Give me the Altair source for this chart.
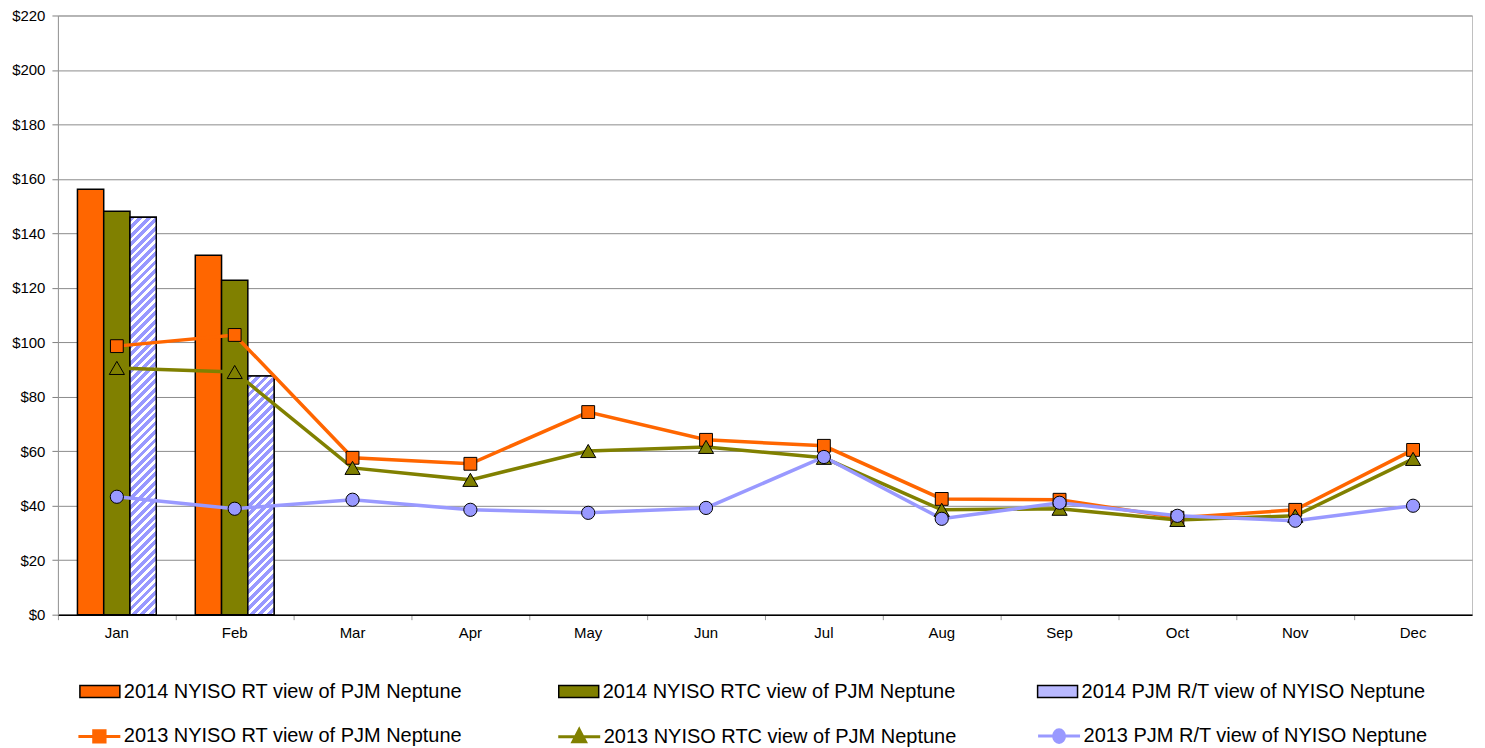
import altair as alt
import pandas as pd

MONTHS = ["Jan", "Feb", "Mar", "Apr", "May", "Jun", "Jul", "Aug", "Sep", "Oct", "Nov", "Dec"]

BAR_NAMES = ["2014 NYISO RT view of PJM Neptune",
             "2014 NYISO RTC view of PJM Neptune",
             "2014 PJM R/T view of NYISO Neptune"]
BAR_MONTHS = ["Jan", "Feb"]
bar_rt_2014 = [156.2, 132.0]
bar_rtc_2014 = [148.1, 122.8]
bar_pjm_2014 = [145.9, 87.6]

LINE_NAMES = ["2013 NYISO RT view of PJM Neptune",
              "2013 NYISO RTC view of PJM Neptune",
              "2013 PJM R/T view of NYISO Neptune"]
line_rt_2013 = [98.6, 102.7, 57.6, 55.4, 74.4, 64.2, 62.0, 42.5, 42.2, 35.6, 38.5, 60.5]
line_rtc_2013 = [90.6, 89.1, 53.9, 49.5, 60.1, 61.6, 57.6, 38.5, 38.9, 34.8, 36.3, 57.2]
line_pjm_2013 = [43.3, 38.9, 42.2, 38.5, 37.4, 39.2, 57.9, 35.2, 41.1, 36.3, 34.5, 40.0]

ORANGE = "#FF6600"
OLIVE = "#808000"
LAV = "#9999FF"
LAV_LEGEND = "#b9b9ff"
FONT = "Liberation Sans"

W, H = 1416, 600
YMAX = 220
BAR_PAD_OUTER = 0.743

bars = pd.DataFrame(
    [{"month": m, "series": BAR_NAMES[k], "value": v}
     for k, vals in enumerate([bar_rt_2014, bar_rtc_2014, bar_pjm_2014])
     for m, v in zip(BAR_MONTHS, vals)]
)
lines = pd.DataFrame(
    [{"month": m, "series13": LINE_NAMES[k], "value": v}
     for k, vals in enumerate([line_rt_2013, line_rtc_2013, line_pjm_2013])
     for m, v in zip(MONTHS, vals)]
)


def hatch(w, h, period=8.5, frac=0.58):
    n = max(1, round((w + h) / period))
    t = (w + h) / (w * w + h * h)
    stops = []
    for i in range(n):
        a, b, c = i / n, (i + frac) / n, (i + 1) / n
        stops += [{"offset": a, "color": LAV}, {"offset": b, "color": LAV},
                  {"offset": b, "color": "white"}, {"offset": c, "color": "white"}]
    return {"gradient": "linear", "x1": 0, "y1": 0, "x2": t * w, "y2": t * h, "stops": stops}


band_w = W / len(MONTHS)
bar_w = band_w / (3 + 2 * BAR_PAD_OUTER)

x_axis = alt.Axis(title=None, labelAngle=0, domainColor="black", domainWidth=1.5,
                  tickColor="#999999", tickSize=5, bandPosition=0, labelPadding=6,
                  labelFontSize=15, grid=False, labelColor="black")
x_scale = alt.Scale(domain=MONTHS, paddingInner=0, paddingOuter=0)
y_scale = alt.Scale(domain=[0, YMAX], nice=False)
y_axis = alt.Axis(title=None, format="$.0f", values=list(range(0, YMAX + 1, 20)),
                  grid=True, gridColor="#8c8c8c", gridWidth=1, domainColor="#999999",
                  tickColor="#808080", tickSize=6, labelPadding=7, labelFontSize=15,
                  labelColor="black")
xoff = alt.XOffset("series:N", scale=alt.Scale(domain=BAR_NAMES, paddingOuter=BAR_PAD_OUTER,
                                               paddingInner=0))

LEG_FS = 20
bar_legend = alt.Legend(
    title=None, orient="none", legendX=78 - 57, legendY=656, direction="horizontal",
    columns=3, gridAlign="all", columnPadding=78.5, labelLimit=600, padding=0,
    symbolType="M-1,-0.3H1V0.3H-1Z", symbolSize=40 * 40, symbolStrokeColor="black",
    symbolStrokeWidth=1.5, labelFontSize=LEG_FS, labelFont=FONT, labelOffset=3,
    symbolOpacity=1,
)

SQ = "M-1,0H1M-0.27,-0.27H0.27V0.27H-0.27Z"
TRI = "M-1,0H1M0,-0.34L0.3,0.24H-0.3Z"
CIR = "M-1,0H-0.26A0.26,0.3 0 1,1 0.26,0A0.26,0.3 0 1,1 -0.26,0M0.26,0H1"
line_legend = alt.Legend(
    title=None, orient="none", legendX=76 - 57, legendY=699, direction="horizontal",
    columns=3, gridAlign="all", columnPadding=74.5, labelLimit=600, padding=0,
    symbolSize=42 * 42, labelFontSize=LEG_FS, labelFont=FONT, labelOffset=2,
    symbolStrokeWidth=3, symbolOpacity=1,
)

x_enc = alt.X("month:N", sort=MONTHS, scale=x_scale, axis=x_axis)
y_enc = alt.Y("value:Q", scale=y_scale, axis=y_axis)

bar_layer = alt.Chart(bars).mark_bar(stroke="black", strokeWidth=1.5).encode(
    x=x_enc, y=y_enc, xOffset=xoff,
    color=alt.Color("series:N",
                    scale=alt.Scale(domain=BAR_NAMES, range=[ORANGE, OLIVE, LAV_LEGEND]),
                    legend=bar_legend),
)

hatch_layers = []
for m, v in zip(BAR_MONTHS, bar_pjm_2014):
    g = hatch(bar_w, v / YMAX * H)
    hl = alt.Chart(bars).transform_filter(
        (alt.datum.series == BAR_NAMES[2]) & (alt.datum.month == m)
    ).mark_bar(fill=g, stroke="black", strokeWidth=1.5).encode(
        x=x_enc, y=y_enc, xOffset=xoff)
    hatch_layers.append(hl)

line_scale = alt.Scale(domain=LINE_NAMES, range=[ORANGE, OLIVE, LAV])
x_line = alt.X("month:N", sort=MONTHS, scale=x_scale, axis=x_axis, bandPosition=0.5)

# invisible (zero-size) points that carry the legend for the 2013 series
legend_layer = alt.Chart(lines).mark_point(
    filled=True, strokeWidth=3, size=0
).encode(
    x=x_line, y=y_enc,
    fill=alt.Fill("series13:N", scale=line_scale, legend=line_legend),
    stroke=alt.Stroke("series13:N", scale=line_scale, legend=line_legend),
    shape=alt.Shape("series13:N", scale=alt.Scale(domain=LINE_NAMES, range=[SQ, TRI, CIR]),
                    legend=line_legend),
)

line_layer = alt.Chart(lines).mark_line(strokeWidth=3.5).encode(
    x=x_line, y=y_enc, stroke=alt.Stroke("series13:N", scale=line_scale, legend=None),
    detail="series13:N",
)

marker_layers = []
for name, shp, col, sz in zip(LINE_NAMES, ["square", "triangle-up", "circle"],
                              [ORANGE, OLIVE, LAV], [165, 230, 175]):
    pl = alt.Chart(lines).transform_filter(alt.datum.series13 == name).mark_point(
        shape=shp, filled=True, fill=col, stroke="black", strokeWidth=1, opacity=1, size=sz
    ).encode(x=x_line, y=y_enc)
    marker_layers.append(pl)

chart = alt.layer(bar_layer, *hatch_layers, legend_layer, line_layer, *marker_layers).properties(
    width=W, height=H, padding={"left": 3, "top": 0, "right": 5, "bottom": 0},
).configure_view(stroke="#c0c0c0", strokeWidth=1).configure_axis(
    labelFont=FONT
).configure_legend(labelColor="black")

chart.save("out.html", embed_options={"renderer": "svg", "actions": False})
